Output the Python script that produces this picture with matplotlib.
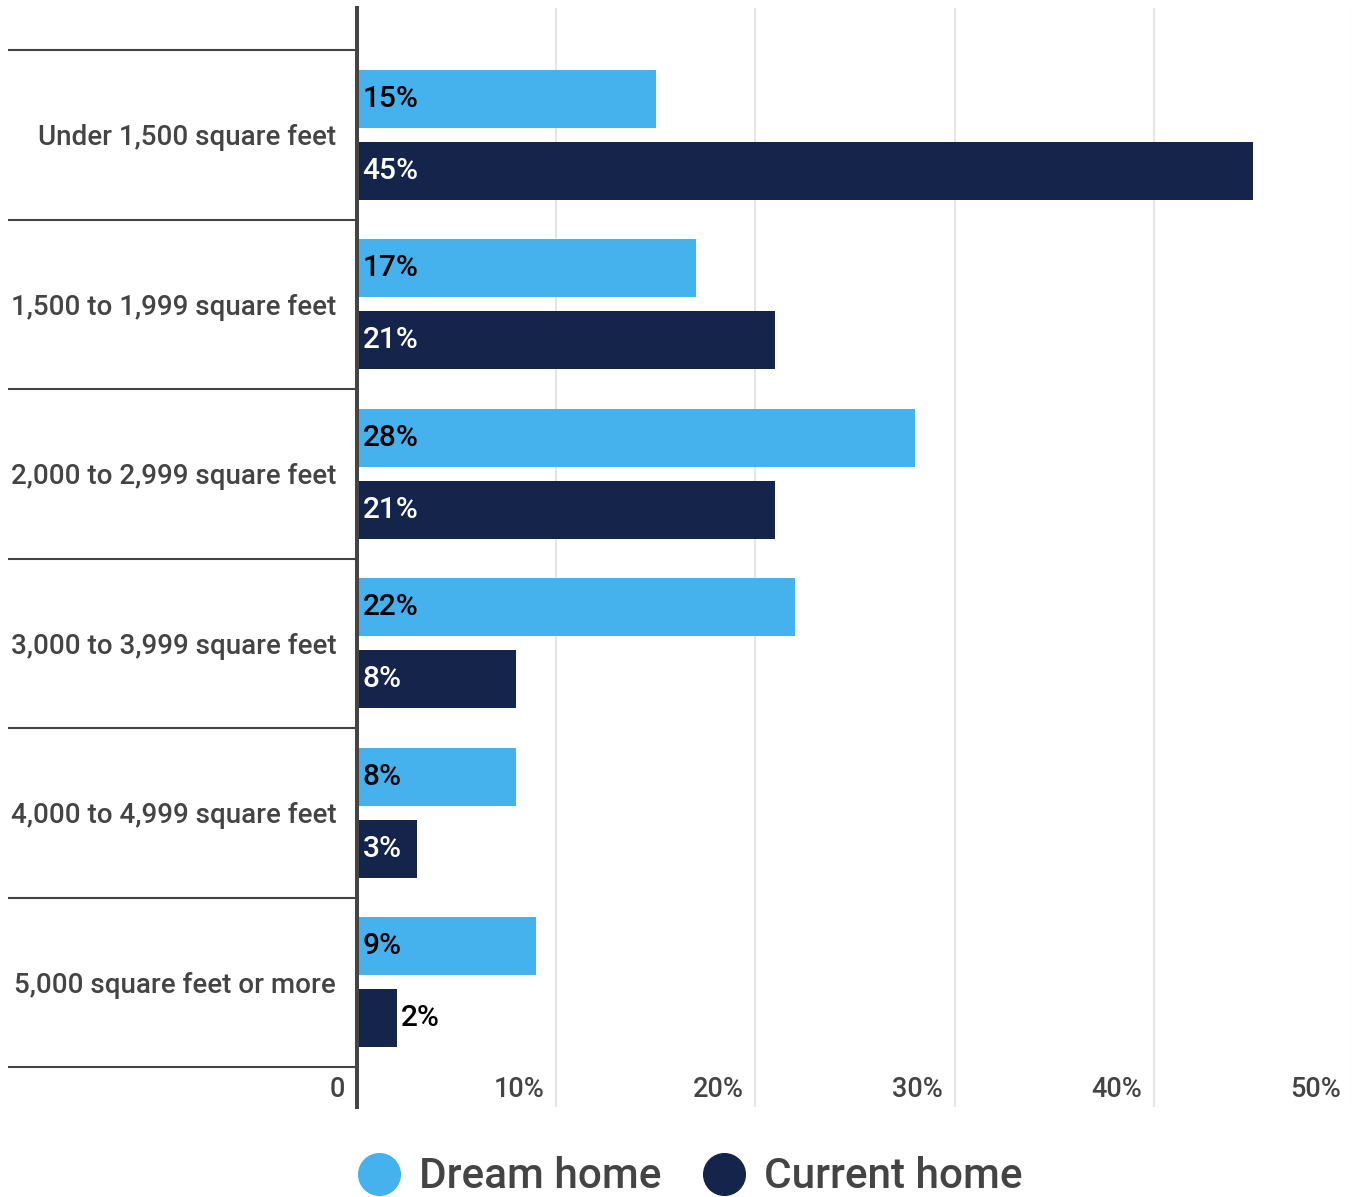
import matplotlib.pyplot as plt
from matplotlib.lines import Line2D
from matplotlib import transforms

plt.rcParams['font.family'] = ['Roboto', 'DejaVu Sans']
plt.rcParams['font.weight'] = 'medium'

# --- data ---
categories = [
    "Under 1,500 square feet",
    "1,500 to 1,999 square feet",
    "2,000 to 2,999 square feet",
    "3,000 to 3,999 square feet",
    "4,000 to 4,999 square feet",
    "5,000 square feet or more",
]
dream_home = [15, 17, 28, 22, 8, 9]
current_home = [45, 21, 21, 8, 3, 2]
x_ticks = [0, 10, 20, 30, 40, 50]
x_tick_labels = ["0", "10%", "20%", "30%", "40%", "50%"]
series_names = ["Dream home", "Current home"]

# --- styling ---
LIGHT = "#45B2EE"
NAVY = "#14244A"
TEXT = "#444444"
AXIS = "#444444"
GRID = "#E6E6E6"

BAR_H = 0.343
OFFSET = 0.2126

fig = plt.figure(figsize=(13.52, 11.97), dpi=100)
ax = fig.add_axes([357 / 1352, 1 - 1107 / 1197, 996 / 1352, 1099 / 1197])

n = len(categories)
pos = list(range(n))
ax.set_xlim(0, 50)
ax.set_ylim(n - 0.5 + 0.236, -0.5 - 0.248)

# grid lines behind bars
for t in x_ticks[1:]:
    ax.axvline(t, color=GRID, lw=1.5, zorder=0)

dream_bars = ax.barh([p - OFFSET for p in pos], dream_home, height=BAR_H,
                     color=LIGHT, zorder=2)
current_bars = ax.barh([p + OFFSET for p in pos], current_home, height=BAR_H,
                       color=NAVY, zorder=2)

# value labels: inside the bar at the left, or outside when the bar is too short
for bars, vals, txt_col in ((dream_bars, dream_home, "black"),
                            (current_bars, current_home, "white")):
    for b, v in zip(bars, vals):
        yc = b.get_y() + b.get_height() / 2
        if v >= 3:
            ax.annotate(f"{v}%", xy=(0, yc), xytext=(4.0, 0),
                        textcoords="offset points", ha="left", va="center",
                        fontsize=21.5, color=txt_col, zorder=3)
        else:
            ax.annotate(f"{v}%", xy=(v, yc), xytext=(3.0, 0),
                        textcoords="offset points", ha="left", va="center",
                        fontsize=21.5, color="black", zorder=3)

# left spine only
for s in ("top", "right", "bottom"):
    ax.spines[s].set_visible(False)
ax.spines["left"].set_color(AXIS)
ax.spines["left"].set_linewidth(2.9)
ax.spines["left"].set_zorder(4)

# category labels + long separator ticks
ax.set_yticks(pos)
ax.set_yticklabels(categories, fontsize=20, color=TEXT)
ax.tick_params(axis="y", which="major", length=0, pad=15)
ax.set_yticks([p - 0.5 for p in pos] + [n - 0.5], minor=True)
ax.tick_params(axis="y", which="minor", length=251, width=1.5, color=AXIS)

# x labels sit inside the bottom padding, right-aligned left of each gridline
ax.set_xticks([])
trans = transforms.blended_transform_factory(ax.transData, ax.transAxes)
for t, lab in zip(x_ticks, x_tick_labels):
    ax.annotate(lab, xy=(t, 0.0155), xycoords=trans, xytext=(-8.5, 0),
                textcoords="offset points", ha="right", va="center",
                fontsize=19.5, color=TEXT)

# legend
handles = [
    Line2D([], [], marker="o", linestyle="none", markersize=30,
           markerfacecolor=LIGHT, markeredgecolor=LIGHT),
    Line2D([], [], marker="o", linestyle="none", markersize=30,
           markerfacecolor=NAVY, markeredgecolor=NAVY),
]
leg = fig.legend(handles, series_names, loc="center", ncol=2,
                 bbox_to_anchor=(0.5107, 1 - 1177 / 1197), frameon=False,
                 fontsize=30.4, handlelength=1.0, handletextpad=0.45,
                 columnspacing=0.98)
for t in leg.get_texts():
    t.set_color(TEXT)

fig.savefig("out.png", dpi=100)
